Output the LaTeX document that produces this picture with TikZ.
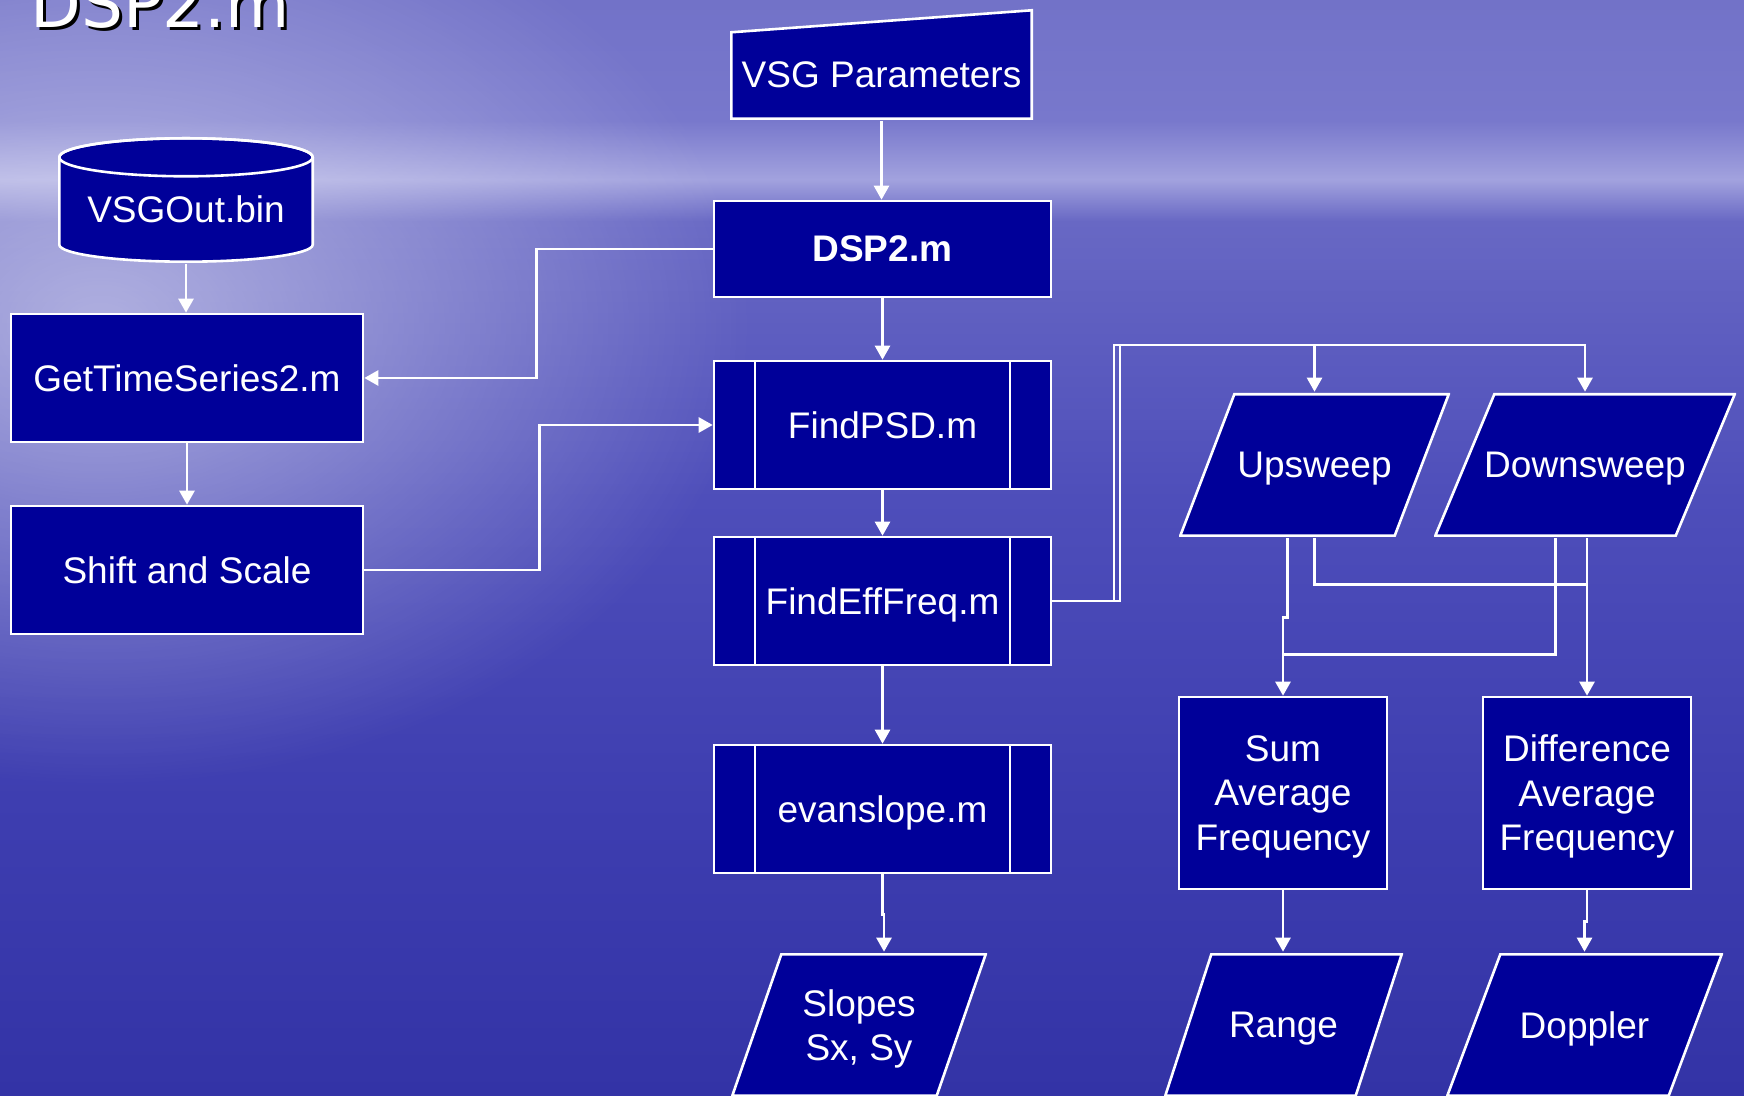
\documentclass[tikz,border=0pt]{standalone}
\usepackage{fontspec}
\setmainfont{Liberation Sans}
\newfontfamily\headfont{DejaVu Sans}
\usetikzlibrary{arrows.meta,calc,fadings}

\definecolor{boxblue}{HTML}{000099}
\definecolor{skytop}{HTML}{7272C8}
\definecolor{skyhigh}{HTML}{7878CC}
\definecolor{skyband}{HTML}{A2A2DE}
\definecolor{skylow}{HTML}{6868C4}
\definecolor{seamid}{HTML}{4E4EBA}
\definecolor{seadeep}{HTML}{3E3EB0}
\definecolor{seabot}{HTML}{3333A6}

\pgfdeclareverticalshading{seasky}{100bp}{color(0bp)=(seabot); color(25bp)=(seabot); color(38.5bp)=(seadeep); color(52.2bp)=(seamid); color(64.9bp)=(skylow); color(66.8bp)=(skyband); color(69.5bp)=(skyhigh); color(75bp)=(skytop); color(100bp)=(skytop)}

\tikzfading[name=glowfade, inner color=transparent!0, outer color=transparent!100]

\begin{document}
\begin{tikzpicture}[->,>={Triangle[length=14pt,width=15pt]},x=1pt,y=1pt,
    line width=2.6pt,color=white,
    every node/.style={text=white,font=\fontsize{37}{44.5}\selectfont,align=center,inner sep=0pt,text depth=0pt},
    box/.style={rectangle,draw=white,fill=boxblue,minimum width=337pt,minimum height=128pt},
    subbox/.style={box,path picture={
        \draw[-,white] ([xshift=41pt]path picture bounding box.north west) -- ([xshift=41pt]path picture bounding box.south west);
        \draw[-,white] ([xshift=-41pt]path picture bounding box.north east) -- ([xshift=-41pt]path picture bounding box.south east);}},
    slanted/.style={rectangle,path picture={
        \filldraw[-,fill=boxblue,draw=white] ($(path picture bounding box.south west)+(1.3,1.3)$)
          -- ($(path picture bounding box.south east)+(-#1-1.3,1.3)$)
          -- ($(path picture bounding box.north east)+(-1.3,-1.3)$)
          -- ($(path picture bounding box.north west)+(#1+1.3,-1.3)$) -- cycle;}},
    manual/.style={rectangle,text height=47pt,path picture={
        \filldraw[-,fill=boxblue,draw=white] ($(path picture bounding box.south west)+(1.3,1.3)$)
          -- ($(path picture bounding box.south east)+(-1.3,1.3)$)
          -- ($(path picture bounding box.north east)+(-1.3,-1.3)$)
          -- ($(path picture bounding box.north west)+(1.3,-23.3)$) -- cycle;}},
    drum/.style={rectangle,text height=46pt,path picture={
        \coordinate (dc) at (path picture bounding box.center);
        \filldraw[-,fill=boxblue,draw=white] ($(dc)+(-126.7,42.7)$) -- ($(dc)+(-126.7,-44.7)$)
          arc[start angle=180,end angle=360,x radius=126.7,y radius=17]
          -- ($(dc)+(126.7,42.7)$) arc[start angle=0,end angle=180,x radius=126.7,y radius=19] -- cycle;
        \draw[-,white] ($(dc)+(0,42.7)$) ellipse[x radius=126.7,y radius=19];}}]
  \useasboundingbox (0,0) rectangle (1744,1095);
  \clip (0,0) rectangle (1744,1095);
  % sea and sky
  \shade[shading=seasky] (0,0) rectangle (1744,1095);
  \fill[white,opacity=.5,path fading=glowfade] (100,770) ellipse [x radius=650,y radius=460];

  % title
  \node[anchor=base west,text=black,font=\headfont\fontsize{66}{72}\selectfont] (titleshade) at (32,1064) {DSP2.m};
  \node[anchor=base west,font=\headfont\fontsize{66}{72}\selectfont] (title) at (29,1067) {DSP2.m};

  % middle column
  \node[manual,minimum width=303pt,minimum height=111pt] (vsg) at (881.5,1030.5) {VSG Parameters};
  \node[box,minimum height=96pt,font=\fontsize{37}{44.5}\selectfont\bfseries] (dsp) at (882.5,846) {DSP2.m};
  \node[subbox] (findpsd) at (882.5,670) {FindPSD.m};
  \node[subbox] (findeff) at (882.5,494) {FindEffFreq.m};
  \node[subbox] (evan) at (882.5,286) {evanslope.m};
  \node[slanted=49,minimum width=256pt,minimum height=144pt] (slopes) at (859,70) {Slopes\\Sx, Sy};

  % left column
  \node[drum,minimum width=256pt,minimum height=126pt] (vsgout) at (186,895) {VSGOut.bin};
  \node[box,minimum width=352pt] (gts) at (187,717) {GetTimeSeries2.m};
  \node[box,minimum width=352pt] (shift) at (187,525) {Shift and Scale};

  % right side
  \node[slanted=54,minimum width=271pt,minimum height=144pt] (up) at (1314.5,630) {Upsweep};
  \node[slanted=59,minimum width=302pt,minimum height=144pt] (down) at (1585,630) {Downsweep};
  \node[box,minimum width=208pt,minimum height=192pt] (sum) at (1283,302) {Sum\\Average\\Frequency};
  \node[box,minimum width=208pt,minimum height=192pt] (diff) at (1587,302) {Difference\\Average\\Frequency};
  \node[slanted=46,minimum width=239pt,minimum height=144pt] (range) at (1283.5,70) {Range};
  \node[slanted=53,minimum width=277pt,minimum height=144pt] (doppler) at (1584.5,70) {Doppler};

  \coordinate (upbus) at (1120,750);
  \coordinate (downbus) at (1114,750);

  % connectors
  \draw (vsg.south) -- (vsg.south |- dsp.north);
  \draw (dsp) -- (findpsd);
  \draw (findpsd) -- (findeff);
  \draw (findeff) -- (evan);
  \draw (evan.south) -- ++(0,-40) -| ($(slopes.north)+(25,0)$);
  \draw (vsgout.south) -- (vsgout.south |- gts.north);
  \draw (gts) -- (shift);
  \draw (dsp.west) -- ++(-176,0) |- (gts.east);
  \draw (shift.east) -- ++(175,0) |- (findpsd.west);
  \draw (findeff.east) -| (downbus) -| (down.north);
  \draw (findeff.east) -| (upbus) -| (up.north);
  \draw ($(up.south)+(-27,0)$) -- ++(0,-79) -| (sum.north);
  \draw[-] (up.south) -- ++(0,-46) coordinate (upjoin) -- (upjoin -| diff.north);
  \draw[-] ($(down.south)+(-29.5,0)$) -- ++(0,-116) coordinate (downjoin) -- (downjoin -| sum.north);
  \draw (diff.north |- down.south) -- (diff.north);
  \draw (sum.south) -- (sum.south |- range.north);
  \draw (diff.south) -- ++(0,-31) -| (doppler.north);
\end{tikzpicture}
\end{document}
